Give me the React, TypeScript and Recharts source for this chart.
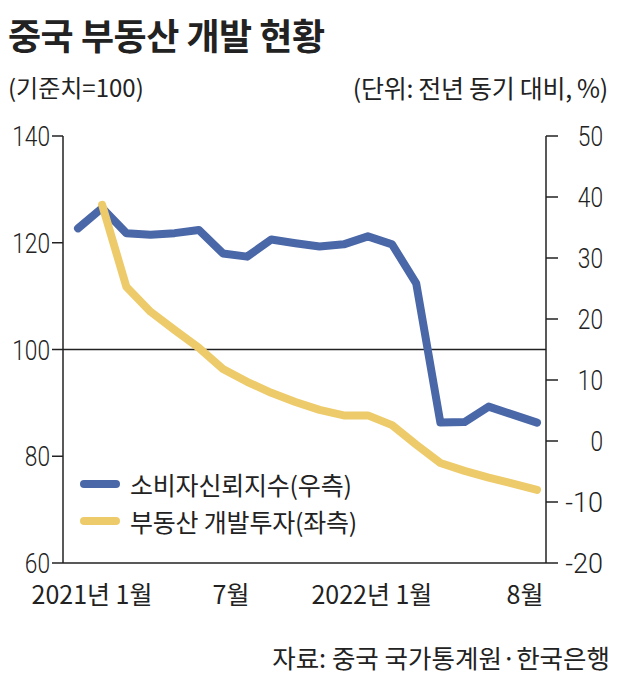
import { LineChart, Line, XAxis, YAxis, ReferenceLine } from 'recharts';

const months = [
  '2021-01', '2021-02', '2021-03', '2021-04', '2021-05', '2021-06', '2021-07', '2021-08', '2021-09', '2021-10',
  '2021-11', '2021-12', '2022-01', '2022-02', '2022-03', '2022-04', '2022-05', '2022-06', '2022-07', '2022-08',
];

// 소비자신뢰지수 (기준치=100)
const confidence = [
  122.7, 126.5, 121.8, 121.5, 121.8, 122.4, 118.0, 117.4, 120.6, 119.9,
  119.3, 119.7, 121.2, 119.7, 112.4, 86.3, 86.4, 89.3, 87.8, 86.3,
];

// 부동산 개발투자 (전년 동기 대비, %)
const investment = [
  null, 38.7, 25.3, 21.2, 18.2, 15.3, 11.8, 9.7, 7.9, 6.4,
  5.1, 4.2, 4.2, 2.6, -0.6, -3.6, -4.9, -6.0, -7.0, -8.0,
];

const tickLabels: Record<string, string> = {
  '2021-01': '2021년 1월',
  '2021-07': '7월',
  '2022-01': '2022년 1월',
  '2022-08': '8월',
};

const leftTicks = [60, 80, 100, 120, 140];
const rightTicks = [-20, -10, 0, 10, 20, 30, 40, 50];

const BLUE = '#4a67a8';
const YELLOW = '#eecb6a';
const INK = '#222';

const seriesNames = ['소비자신뢰지수(우측)', '부동산 개발투자(좌측)'];

const data = months.map((m, i) => ({ month: m, confidence: confidence[i], investment: investment[i] }));

const numFont = "Roboto, sans-serif";
const krFont = "'Noto Sans CJK KR', sans-serif";

// small nudges so labels sit where the print has them
const labelShift: Record<string, number> = { '2021-01': 14, '2021-07': 8, '2022-01': 4, '2022-08': -12 };

const XTick = (props: any) => {
  const { x, y, payload } = props;
  const label = tickLabels[payload.value];
  if (!label) return <g />;
  return (
    <text x={x + (labelShift[payload.value] || 0)} y={y + 33} textAnchor="middle" fontFamily={krFont} fontSize={25} fill={INK}>
      {label}
    </text>
  );
};

// narrow digits, like the print's condensed face
const NumText = ({ x, y, children }: any) => {
  const s = String(children);
  return (
    <text
      x={x}
      y={y}
      textAnchor="end"
      fontFamily={numFont}
      fontWeight={300}
      fontSize={28}
      fill={INK}
      textLength={s.length * 12.6}
      lengthAdjust="spacingAndGlyphs"
    >
      {s}
    </text>
  );
};

const LeftTick = (props: any) => {
  const { x, y, payload } = props;
  return <NumText x={x} y={y + 10}>{payload.value}</NumText>;
};

const RightTick = (props: any) => {
  const { x, y, payload } = props;
  const v = payload.value < 0 ? `-${Math.abs(payload.value)}` : `${payload.value}`;
  return <NumText x={x + 43} y={y + 10}>{v}</NumText>;
};

export default function App() {
  return (
    <div style={{ position: 'absolute', left: 0, top: 0, width: 630, height: 687, background: '#fff', fontFamily: krFont, color: INK }}>
      <div style={{ position: 'absolute', left: 8, top: 8, fontSize: 36, fontWeight: 700, letterSpacing: -0.5 }}>
        중국 부동산 개발 현황
      </div>
      <div style={{ position: 'absolute', left: 8, top: 69, fontSize: 24 }}>(기준치=100)</div>
      <div style={{ position: 'absolute', right: 22, top: 69, fontSize: 25, letterSpacing: -0.3 }}>(단위: 전년 동기 대비, %)</div>

      <LineChart width={630} height={687} data={data} margin={{ top: 136, right: 0, bottom: 84, left: 0 }}>
        <XAxis
          dataKey="month"
          height={40}
          interval={0}
          padding={{ left: 15, right: 9 }}
          axisLine={{ stroke: INK, strokeWidth: 1.5 }}
          tickLine={false}
          tick={<XTick />}
        />
        <YAxis
          yAxisId="left"
          width={63}
          domain={[60, 140]}
          ticks={leftTicks}
          axisLine={{ stroke: INK, strokeWidth: 1.5 }}
          tickLine={{ stroke: INK, strokeWidth: 1.5 }}
          tickSize={11}
          tickMargin={2}
          tick={<LeftTick />}
        />
        <YAxis
          yAxisId="right"
          orientation="right"
          width={84}
          domain={[-20, 50]}
          ticks={rightTicks}
          axisLine={{ stroke: INK, strokeWidth: 1.5 }}
          tickLine={{ stroke: INK, strokeWidth: 1.5 }}
          tickSize={12}
          tickMargin={2}
          tick={<RightTick />}
        />
        <ReferenceLine yAxisId="left" y={100} stroke={INK} strokeWidth={1.3} />
        <Line
          yAxisId="left"
          dataKey="confidence"
          stroke={BLUE}
          strokeWidth={8}
          strokeLinejoin="round"
          strokeLinecap="round"
          dot={false}
          isAnimationActive={false}
        />
        <Line
          yAxisId="right"
          dataKey="investment"
          stroke={YELLOW}
          strokeWidth={8}
          strokeLinejoin="round"
          strokeLinecap="round"
          dot={false}
          isAnimationActive={false}
        />
      </LineChart>

      <div style={{ position: 'absolute', left: 80, top: 465, fontSize: 25, letterSpacing: -0.2 }}>
        {[BLUE, YELLOW].map((c, i) => (
          <div key={i} style={{ display: 'flex', alignItems: 'center', height: 37 }}>
            <span style={{ display: 'inline-block', width: 40, height: 8, borderRadius: 4, background: c, marginRight: 10 }} />
            <span>{seriesNames[i]}</span>
          </div>
        ))}
      </div>

      <div style={{ position: 'absolute', right: 20, top: 638, fontSize: 25.5 }}>자료: 중국 국가통계원·한국은행</div>
    </div>
  );
}
